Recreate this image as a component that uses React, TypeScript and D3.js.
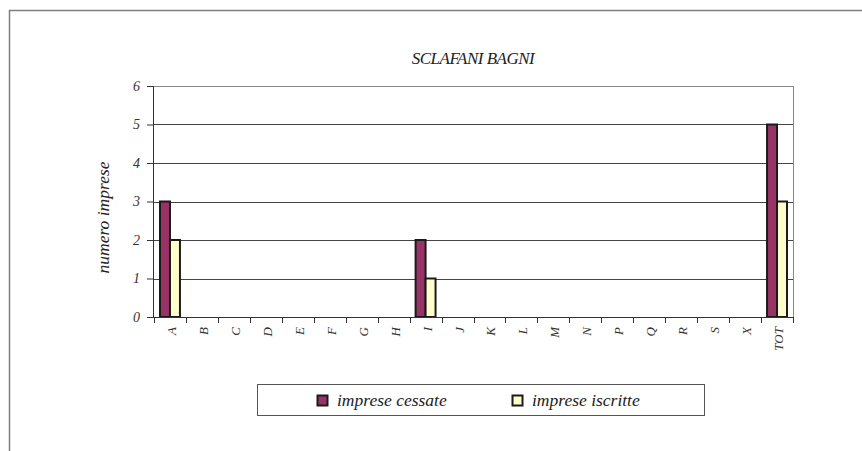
import { useRef, useEffect } from 'react';
import * as d3 from 'd3';

const categories = ['A', 'B', 'C', 'D', 'E', 'F', 'G', 'H', 'I', 'J', 'K', 'L', 'M', 'N', 'P', 'Q', 'R', 'S', 'X', 'TOT'];
const cessate = [3, 0, 0, 0, 0, 0, 0, 0, 2, 0, 0, 0, 0, 0, 0, 0, 0, 0, 0, 5];
const iscritte = [2, 0, 0, 0, 0, 0, 0, 0, 1, 0, 0, 0, 0, 0, 0, 0, 0, 0, 0, 3];
const seriesNames = ['imprese cessate', 'imprese iscritte'];
const seriesColors = ['#993366', '#FFFFCC'];
const yTicks = [0, 1, 2, 3, 4, 5, 6];

const W = 862;
const H = 451;
const FONT = '"Liberation Serif"';

const App = () => {
  const svgRef = useRef<SVGSVGElement | null>(null);

  useEffect(() => {
    if (!svgRef.current) return;
    const svg = d3.select(svgRef.current);
    svg.selectAll('*').remove();

    const margin = { top: 86, left: 154, right: 862 - 793, bottom: 451 - 317 };
    const innerW = W - margin.left - margin.right;
    const innerH = H - margin.top - margin.bottom;

    // outer frame (only top and left edges visible)
    svg.append('path')
      .attr('d', `M9.5,${H} L9.5,10.5 L${W},10.5`)
      .attr('fill', 'none')
      .attr('stroke', '#808080')
      .attr('stroke-width', 1.5);

    svg.append('text')
      .attr('x', 473)
      .attr('y', 64)
      .attr('text-anchor', 'middle')
      .style('font-family', FONT)
      .style('font-style', 'italic')
      .style('font-size', '17px')
      .attr('fill', '#222')
      .attr('letter-spacing', -0.5)
      .text('SCLAFANI BAGNI');

    const x = d3.scaleBand<string>().domain(categories).range([0, innerW]);
    const x1 = d3.scaleBand<number>().domain([0, 1]).range([6, x.bandwidth() - 6]);
    const y = d3.scaleLinear().domain([0, 6]).range([innerH, 0]);

    const g = svg.append('g').attr('transform', `translate(${margin.left},${margin.top})`);

    // gridlines
    g.selectAll('line.grid')
      .data(yTicks.filter((t) => t > 0))
      .join('line')
      .attr('x1', 0)
      .attr('x2', innerW)
      .attr('y1', (d) => Math.round(y(d)) + 0.5)
      .attr('y2', (d) => Math.round(y(d)) + 0.5)
      .attr('stroke', (d) => (d === 6 ? '#888' : '#444'))
      .attr('stroke-width', 1);

    // right border of plot
    g.append('line')
      .attr('x1', innerW + 0.5)
      .attr('x2', innerW + 0.5)
      .attr('y1', 0)
      .attr('y2', innerH)
      .attr('stroke', '#888');

    // bars
    const data = [cessate, iscritte];
    data.forEach((vals, si) => {
      g.selectAll(`rect.s${si}`)
        .data(vals.map((v, i) => ({ v, c: categories[i] })).filter((d) => d.v > 0))
        .join('rect')
        .attr('x', (d) => x(d.c)! + x1(si)!)
        .attr('y', (d) => y(d.v))
        .attr('width', x1.bandwidth())
        .attr('height', (d) => innerH - y(d.v))
        .attr('fill', seriesColors[si])
        .attr('stroke', '#1a1a1a')
        .attr('stroke-width', 2);
    });

    // y axis
    const yAxis = g.append('g')
      .call(d3.axisLeft(y).tickValues(yTicks).tickSize(7).tickPadding(7).tickFormat(d3.format('d')));
    yAxis.select('.domain').attr('stroke', '#333').attr('d', `M-0.5,0V${innerH}`);
    yAxis.selectAll('.tick line').attr('stroke', '#333');
    yAxis.selectAll('.tick text')
      .style('font-family', FONT)
      .style('font-style', 'italic')
      .style('font-size', '14px')
      .attr('fill', '#333');

    // x axis
    const xAxis = g.append('g')
      .attr('transform', `translate(0,${innerH})`)
      .call(d3.axisBottom(x).tickSize(0).tickFormat(() => ''));
    xAxis.select('.domain').attr('stroke', '#333').attr('d', `M0,0.5H${innerW}`);

    g.append('g')
      .attr('transform', `translate(0,${innerH})`)
      .selectAll('line')
      .data(categories.concat(['__end']))
      .join('line')
      .attr('x1', (_, i) => Math.round(i * x.step()) + 0.5)
      .attr('x2', (_, i) => Math.round(i * x.step()) + 0.5)
      .attr('y1', 0)
      .attr('y2', 6)
      .attr('stroke', '#333');

    g.append('g')
      .selectAll('text')
      .data(categories)
      .join('text')
      .attr('transform', (d) => `translate(${x(d)! + x.bandwidth() / 2 + 6},${innerH + 10}) rotate(-90)`)
      .attr('text-anchor', 'end')
      .style('font-family', FONT)
      .style('font-style', 'italic')
      .style('font-size', '13px')
      .attr('fill', '#333')
      .text((d) => d);

    // y title
    svg.append('text')
      .attr('transform', `translate(109,${margin.top + innerH / 2 + 16}) rotate(-90)`)
      .attr('text-anchor', 'middle')
      .style('font-family', FONT)
      .style('font-style', 'italic')
      .style('font-size', '17.5px')
      .attr('fill', '#222')
      .text('numero imprese');

    // legend
    const lg = svg.append('g');
    lg.append('rect')
      .attr('x', 257.5)
      .attr('y', 384.5)
      .attr('width', 447)
      .attr('height', 31)
      .attr('fill', 'none')
      .attr('stroke', '#555');
    const legendX = [317, 512];
    seriesNames.forEach((name, i) => {
      lg.append('rect')
        .attr('x', legendX[i] + 0.5)
        .attr('y', 395.5)
        .attr('width', 10)
        .attr('height', 10)
        .attr('fill', seriesColors[i])
        .attr('stroke', '#1a1a1a')
        .attr('stroke-width', 2);
      lg.append('text')
        .attr('x', legendX[i] + 20)
        .attr('y', 406)
        .style('font-family', FONT)
        .style('font-style', 'italic')
        .style('font-size', '17.5px')
        .attr('fill', '#222')
        .text(name);
    });
  }, []);

  return (
    <svg
      ref={svgRef}
      width={W}
      height={H}
      style={{ position: 'absolute', left: 0, top: 0, background: '#fff' }}
    />
  );
};

export default App;
